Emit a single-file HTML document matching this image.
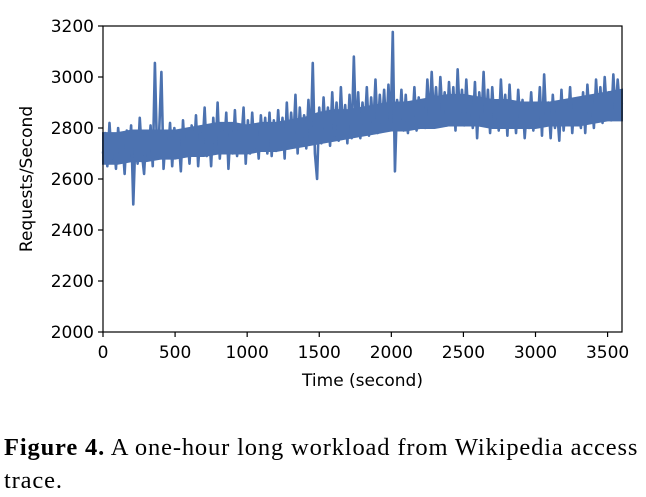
<!DOCTYPE html>
<html><head><meta charset="utf-8"><style>
body{margin:0;width:646px;height:494px;background:#fff;overflow:hidden;font-family:"DejaVu Sans","Liberation Sans",sans-serif}
svg{position:absolute;left:0;top:0}
.cap{position:absolute;left:4px;top:431px;width:645px;white-space:nowrap;font-family:"Liberation Serif",serif;font-size:24.5px;letter-spacing:0.85px;line-height:33px;color:#000}
</style></head><body>
<svg id="chart" width="646" height="420"></svg>
<div class="cap"><b>Figure 4.</b> A one-hour long workload from Wikipedia access<br>trace.</div>
<script>
const stepSeconds = 15;
const requests = [
2700,2780,2650,2820,2680,2760,2640,2800,2700,2750,2620,2790,2690,2810,2500,2760,2660,2840,2700,2620,
2780,2680,2810,2650,3055,2700,2790,3020,2640,2770,2690,2820,2650,2800,2700,2760,2630,2830,2690,2780,
2660,2810,2700,2850,2650,2780,2720,2880,2690,2800,2650,2840,2700,2900,2680,2790,2720,2860,2640,2800,
2700,2870,2690,2810,2750,2880,2660,2830,2700,2860,2720,2800,2680,2850,2730,2840,2700,2860,2690,2830,
2710,2870,2730,2840,2680,2900,2720,2860,2740,2930,2700,2880,2750,2850,2720,2910,2740,3055,2700,2600,
2880,2740,2920,2760,2880,2730,2940,2770,2900,2750,2960,2780,2890,2740,2930,2760,3080,2780,2940,2760,
2900,2790,2960,2770,2920,2800,2990,2780,2930,2810,2950,2790,2970,2800,3177,2630,2910,2800,2950,2790,
2930,2780,2900,2810,2960,2790,2920,2820,2880,2800,2990,2830,3020,2840,2960,2820,3000,2850,2940,2810,
2980,2830,2960,2790,3030,2840,2950,2810,2990,2830,2920,2800,2980,2760,2940,2830,3020,2810,2950,2780,
2960,2820,2900,2790,2990,2830,2930,2770,2970,2810,2900,2780,2950,2820,2910,2760,2880,2800,2940,2790,
2890,2810,2960,2770,3010,2820,2900,2760,2930,2800,2870,2750,2950,2790,2900,2820,2960,2780,2910,2830,
2860,2800,2940,2780,2970,2840,2920,2800,2990,2850,2960,2820,3000,2860,2940,2830,3010,2850,2990,2880,
2900];
// dense core band of the trace, sampled every 100 s
const bandStep = 100;
const bandLow = [2660,2660,2670,2670,2680,2680,2690,2690,2700,2700,2700,2710,2710,2720,2730,2740,2750,2760,2770,2780,2790,2790,2800,2800,2810,2810,2810,2800,2800,2800,2800,2810,2810,2810,2820,2830,2830];
const bandHigh = [2780,2780,2790,2790,2790,2790,2800,2810,2820,2820,2810,2820,2820,2830,2840,2860,2870,2870,2880,2890,2900,2900,2910,2920,2930,2930,2920,2910,2910,2900,2900,2900,2910,2920,2930,2940,2950];
const xTicks = [0,500,1000,1500,2000,2500,3000,3500];
const yTicks = [2000,2200,2400,2600,2800,3000,3200];

const svg = document.getElementById('chart');
const NS = 'http://www.w3.org/2000/svg';
const L=103,R=622,T=26,B=332, XMAX=3600, YMIN=2000, YMAX=3200;
const xs = v => L + v/XMAX*(R-L);
const ys = v => B - (v-YMIN)/(YMAX-YMIN)*(B-T);
function mk(tag, attrs){const e=document.createElementNS(NS,tag);for(const k in attrs)e.setAttribute(k,attrs[k]);svg.appendChild(e);return e;}

let bd='';
bandHigh.forEach((v,i)=>{bd+=(i?'L':'M')+xs(Math.min(i*bandStep,XMAX)).toFixed(2)+' '+ys(v).toFixed(2);});
for(let i=bandLow.length-1;i>=0;i--){bd+='L'+xs(Math.min(i*bandStep,XMAX)).toFixed(2)+' '+ys(bandLow[i]).toFixed(2);}
bd+='Z';
const band = mk('path',{d:bd,fill:'#4c72b0',stroke:'#4c72b0','stroke-width':2});



let d='';
requests.forEach((v,i)=>{d+=(i?'L':'M')+xs(i*stepSeconds).toFixed(2)+' '+ys(v).toFixed(2);});
const line = mk('path',{d:d,fill:'none',stroke:'#4c72b0','stroke-width':2.6,'stroke-linejoin':'round'});



const frame = mk('rect',{x:L,y:T,width:R-L,height:B-T,fill:'none',stroke:'#000','stroke-width':1.2});



xTicks.forEach(t=>{
  const x=xs(t);
  const tk = mk('line',{x1:x,x2:x,y1:B,y2:B+5,stroke:'#000','stroke-width':1.2});
  
  
  const tx = mk('text',{x:x,y:B+26,'text-anchor':'middle','font-size':17});
  tx.textContent=t;
  
  
});
yTicks.forEach(t=>{
  const y=ys(t);
  const tk = mk('line',{x1:L-5,x2:L,y1:y,y2:y,stroke:'#000','stroke-width':1.2});
  
  
  const tx = mk('text',{x:L-9,y:y+6,'text-anchor':'end','font-size':17});
  tx.textContent=t;
  
  
});
const xl = mk('text',{x:(L+R)/2,y:386,'text-anchor':'middle','font-size':17});
xl.textContent='Time (second)';


const yl = mk('text',{x:0,y:0,'text-anchor':'middle','font-size':17,transform:'translate(32,179) rotate(-90)'});
yl.textContent='Requests/Second';


</script>
</body></html>
